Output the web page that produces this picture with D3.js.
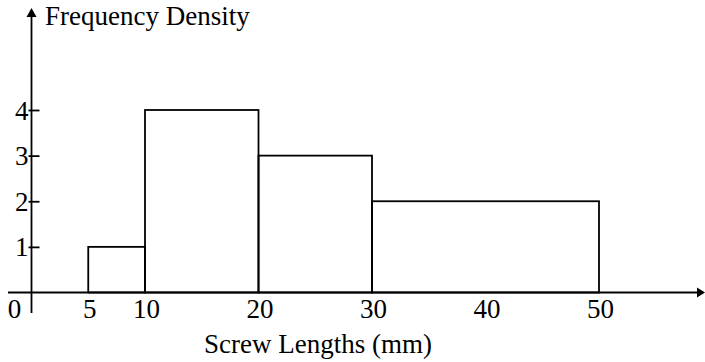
<!DOCTYPE html>
<html>
<head>
<meta charset="utf-8">
<script src="https://cdn.jsdelivr.net/npm/d3@7"></script>
<style>
  html, body { margin: 0; padding: 0; background: #fff; }
  svg { display: block; }
  text { font-family: "Liberation Serif", "Times New Roman", serif; fill: #000; }
</style>
</head>
<body>
<svg id="chart" width="705" height="362"></svg>
<script>
// Histogram of screw lengths: class boundaries and frequency densities
const classStarts = [5, 10, 20, 30];
const classEnds = [10, 20, 30, 50];
const densities = [1, 4, 3, 2];
const xTickValues = [0, 5, 10, 20, 30, 40, 50];
const yTickValues = [1, 2, 3, 4];
const xTitle = "Screw Lengths (mm)";
const yTitle = "Frequency Density";

const svg = d3.select("#chart");
const fontSize = 27;
const stroke = 1.8;

const x = d3.scaleLinear().domain([0, 50]).range([31.5, 599]);
const y = d3.scaleLinear().domain([0, 4]).range([292.5, 110]);

const x0 = x(0), y0 = y(0);

// Bars (outline only)
const bins = classStarts.map((s, i) => ({ s, e: classEnds[i], d: densities[i] }));
svg.append("g")
  .selectAll("rect")
  .data(bins)
  .join("rect")
  .attr("x", d => x(d.s))
  .attr("y", d => y(d.d))
  .attr("width", d => x(d.e) - x(d.s))
  .attr("height", d => y0 - y(d.d))
  .attr("fill", "none")
  .attr("stroke", "#000")
  .attr("stroke-width", stroke);

// Horizontal axis line with arrow head
svg.append("line")
  .attr("x1", 8).attr("x2", 698)
  .attr("y1", y0).attr("y2", y0)
  .attr("stroke", "#000").attr("stroke-width", stroke);
svg.append("path")
  .attr("d", `M705,${y0} L697,${y0 - 5} L697,${y0 + 5} Z`)
  .attr("fill", "#000");

// Vertical axis line with arrow head
svg.append("line")
  .attr("x1", x0).attr("x2", x0)
  .attr("y1", 16).attr("y2", 313)
  .attr("stroke", "#000").attr("stroke-width", stroke);
svg.append("path")
  .attr("d", `M${x0},8 L${x0 - 5},17 L${x0 + 5},17 Z`)
  .attr("fill", "#000");

// Y axis ticks and labels
const yAxis = svg.append("g")
  .attr("transform", `translate(${x0},0)`)
  .call(d3.axisLeft(y).tickValues(yTickValues).tickSizeInner(-8).tickSizeOuter(0).tickFormat(d3.format("d")));
yAxis.select(".domain").remove();
yAxis.selectAll(".tick line")
  .attr("x1", -3).attr("x2", 8)
  .attr("stroke", "#000").attr("stroke-width", stroke);
yAxis.selectAll(".tick text")
  .attr("x", -3)
  .attr("dy", null)
  .attr("y", 9)
  .attr("text-anchor", "end")
  .style("font-size", fontSize + "px")
  .style("font-family", "'Liberation Serif', 'Times New Roman', serif");

// X axis labels
const xAxis = svg.append("g")
  .attr("transform", `translate(0,${y0})`)
  .call(d3.axisBottom(x).tickValues(xTickValues).tickSize(0).tickFormat(d3.format("d")));
xAxis.select(".domain").remove();
xAxis.selectAll(".tick line").remove();
xAxis.selectAll(".tick text")
  .attr("dy", null)
  .attr("y", 25.5)
  .attr("x", d => d === 0 ? -17.5 : 1)
  .attr("text-anchor", "middle")
  .style("font-size", fontSize + "px")
  .style("font-family", "'Liberation Serif', 'Times New Roman', serif");

// Axis titles
svg.append("text")
  .attr("x", 45).attr("y", 25)
  .style("font-size", fontSize + "px")
  .text(yTitle);
svg.append("text")
  .attr("x", 204).attr("y", 353)
  .style("font-size", fontSize + "px")
  .text(xTitle);
</script>
</body>
</html>
